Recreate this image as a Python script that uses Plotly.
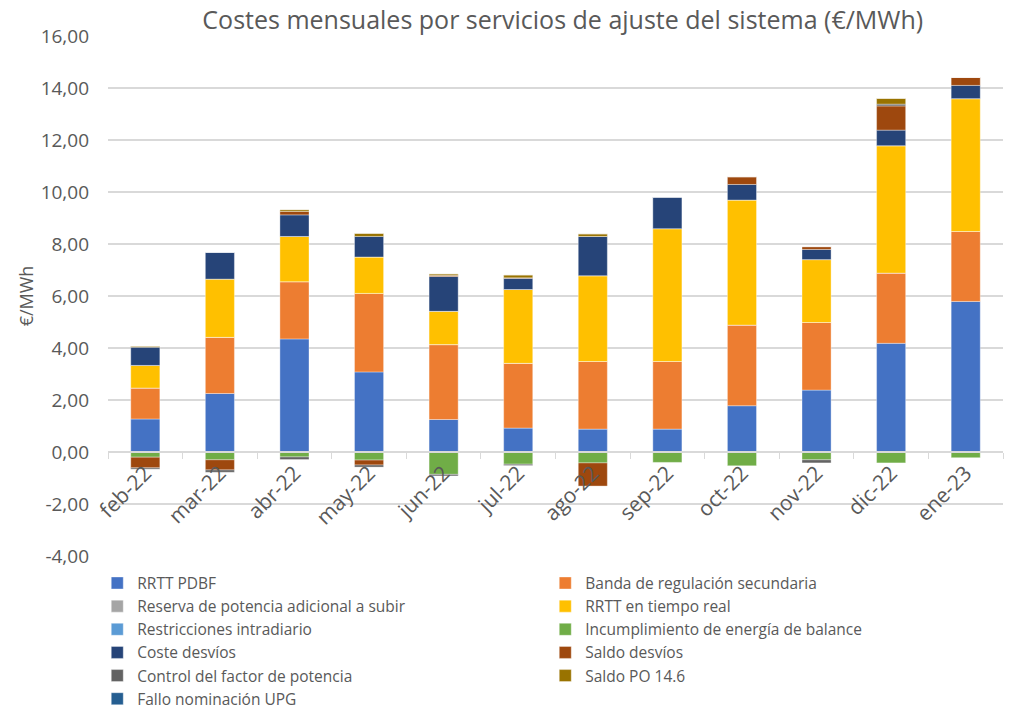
import plotly.graph_objects as go

months = ["feb-22", "mar-22", "abr-22", "may-22", "jun-22", "jul-22",
          "ago-22", "sep-22", "oct-22", "nov-22", "dic-22", "ene-23"]

rrtt_pdbf = [1.27, 2.25, 4.35, 3.08, 1.25, 0.92, 0.88, 0.88, 1.78, 2.38, 4.18, 5.79]
banda_secundaria = [1.19, 2.16, 2.20, 3.02, 2.88, 2.49, 2.60, 2.60, 3.10, 2.60, 2.70, 2.69]
reserva_subir = [0, 0, 0, 0, 0, 0, 0, 0, 0, 0, 0, 0]
rrtt_tiempo_real = [0.87, 2.24, 1.74, 1.40, 1.28, 2.84, 3.30, 5.11, 4.81, 2.42, 4.90, 5.11]
restricciones_intradiario = [0, 0, 0, 0, 0, 0, 0, 0, 0, 0, 0, 0]
incumplimiento_balance = [-0.20, -0.30, -0.19, -0.31, -0.86, -0.47, -0.42, -0.40, -0.53, -0.30, -0.42, -0.22]
coste_desvios = [0.70, 1.03, 0.83, 0.79, 1.34, 0.43, 1.51, 1.22, 0.60, 0.39, 0.60, 0.51]
saldo_desvios = [-0.41, -0.39, 0.13, -0.19, 0.04, 0.02, -0.89, 0, 0.30, 0.11, 0.93, 0.31]
control_factor = [-0.05, -0.09, -0.10, -0.08, -0.06, -0.05, 0, 0, 0, -0.12, 0.07, 0]
saldo_po146 = [0.04, 0, 0.07, 0.12, 0.06, 0.11, 0.10, 0, 0, 0, 0.22, 0]
fallo_upg = [0, 0, 0, 0, 0, 0, 0, 0, 0, 0, 0, 0]

series = [
    ("RRTT PDBF", rrtt_pdbf, "#4472C4"),
    ("Banda de regulación secundaria", banda_secundaria, "#ED7D31"),
    ("Reserva de potencia adicional a subir", reserva_subir, "#A5A5A5"),
    ("RRTT en tiempo real", rrtt_tiempo_real, "#FFC000"),
    ("Restricciones intradiario", restricciones_intradiario, "#5B9BD5"),
    ("Incumplimiento de energía de balance", incumplimiento_balance, "#70AD47"),
    ("Coste desvíos", coste_desvios, "#264478"),
    ("Saldo desvíos", saldo_desvios, "#9E480E"),
    ("Control del factor de potencia", control_factor, "#636363"),
    ("Saldo PO 14.6", saldo_po146, "#997300"),
    ("Fallo nominación UPG", fallo_upg, "#255E91"),
]

y_ticks = [-4, -2, 0, 2, 4, 6, 8, 10, 12, 14, 16]
y_ticktext = [f"{v:.2f}".replace(".", ",") for v in y_ticks]

FONT = "'Open Sans', 'Noto Sans', sans-serif"
GREY = "#595959"

fig = go.Figure()
for name, vals, color in series:
    fig.add_trace(go.Bar(
        x=months, y=vals, name=name,
        marker=dict(color=color, line=dict(color="rgba(255,255,255,0.6)", width=0.6)),
    ))

fig.update_layout(
    barmode="relative",
    bargap=0.61,
    width=1005, height=705,
    paper_bgcolor="white", plot_bgcolor="white",
    font=dict(family=FONT, color=GREY, size=17),
    title=dict(text="Costes mensuales por servicios de ajuste del sistema (€/MWh)",
               x=0.552, xanchor="center", y=0.982, yanchor="middle",
               font=dict(size=25, color=GREY, family=FONT)),
    margin=dict(l=100, r=10, t=28, b=157, autoexpand=False),
    legend=dict(orientation="h", x=-0.012, xanchor="left", y=-0.02, yanchor="top",
                entrywidth=403, entrywidthmode="pixels",
                font=dict(size=15.5, color=GREY, family=FONT),
                itemwidth=30, tracegroupgap=0),
    showlegend=True,
)

fig.update_yaxes(
    range=[-4, 16], tickvals=y_ticks, ticktext=y_ticktext,
    showgrid=True, gridcolor="#D9D9D9", gridwidth=1.5,
    zeroline=False, showline=False,
    ticks="", ticklabelstandoff=18,
    tickfont=dict(size=19, color=GREY),
    title=dict(text="€/MWh", font=dict(size=18, color=GREY), standoff=2),
)

fig.update_xaxes(
    type="category", anchor="free", position=0.2,
    showline=True, linecolor="#D9D9D9", linewidth=1.5,
    ticks="outside", tickson="boundaries", ticklen=6, tickcolor="#D9D9D9",
    tickangle=-45, tickfont=dict(size=21, color=GREY),
    showgrid=False,
)

fig.write_html("out.html")
